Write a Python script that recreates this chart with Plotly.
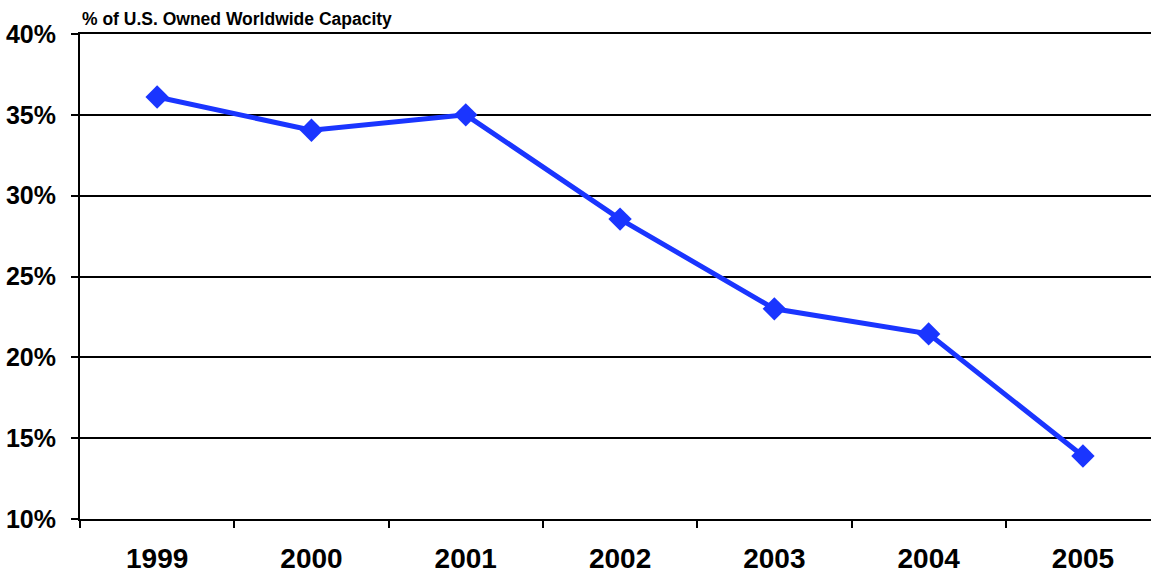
import plotly.graph_objects as go

years = ["1999", "2000", "2001", "2002", "2003", "2004", "2005"]
share = [36.1, 34.05, 35.0, 28.55, 23.0, 21.45, 13.9]
y_ticks = [10, 15, 20, 25, 30, 35, 40]
y_labels = [f"{v}%" for v in y_ticks]

xpos = list(range(len(years)))
bounds = [i - 0.5 for i in range(len(years) + 1)]

fig = go.Figure()
fig.add_trace(go.Scatter(
    x=xpos, y=share, mode="lines+markers",
    line=dict(color="#1a35ff", width=5),
    marker=dict(symbol="diamond", size=18, color="#1a35ff"),
    showlegend=False, cliponaxis=False,
))
# invisible trace on secondary x axis for category boundary ticks
fig.add_trace(go.Scatter(x=[bounds[0]], y=[share[0]], xaxis="x2", mode="markers",
                         marker=dict(opacity=0), showlegend=False, hoverinfo="skip"))

W, H = 1151, 574
ml, mt, mb = 80, 34, 55
cat_w = 154.3
xr = [-0.5, -0.5 + (W - ml) / cat_w]

fig.update_layout(
    width=W, height=H,
    margin=dict(l=ml, r=0, t=mt, b=mb, autoexpand=False),
    paper_bgcolor="white", plot_bgcolor="white",
    font=dict(family="Liberation Sans, Arial, sans-serif", color="black"),
    xaxis=dict(range=xr, tickvals=xpos, ticktext=years, ticks="",
               showgrid=False, zeroline=False, showline=True, linecolor="black", linewidth=2,
               mirror=True, automargin=False,
               tickfont=dict(size=28, family="Liberation Sans, Arial, sans-serif", weight="bold"),
               ticklabelstandoff=13),
    xaxis2=dict(range=xr, overlaying="x", tickvals=bounds, ticktext=[""] * len(bounds),
                ticks="outside", ticklen=8, tickwidth=2, tickcolor="black", automargin=False,
                showgrid=False, zeroline=False, showline=False, side="bottom"),
    yaxis=dict(range=[10, 40], tickvals=y_ticks, ticktext=y_labels,
               ticks="outside", ticklen=7, tickwidth=2, tickcolor="black",
               showgrid=True, gridcolor="black", gridwidth=1.5, automargin=False,
               zeroline=False, showline=True, linecolor="black", linewidth=2,
               tickfont=dict(size=25, family="Liberation Sans, Arial, sans-serif", weight="bold"),
               ticklabelstandoff=10),
    annotations=[dict(text="% of U.S. Owned Worldwide Capacity", xref="paper", yref="paper",
                      x=0, y=1, xanchor="left", yanchor="bottom", yshift=3, xshift=0,
                      showarrow=False,
                      font=dict(size=17.5, family="Liberation Sans, Arial, sans-serif", weight="bold"))],
)

fig.write_html("out.html")
